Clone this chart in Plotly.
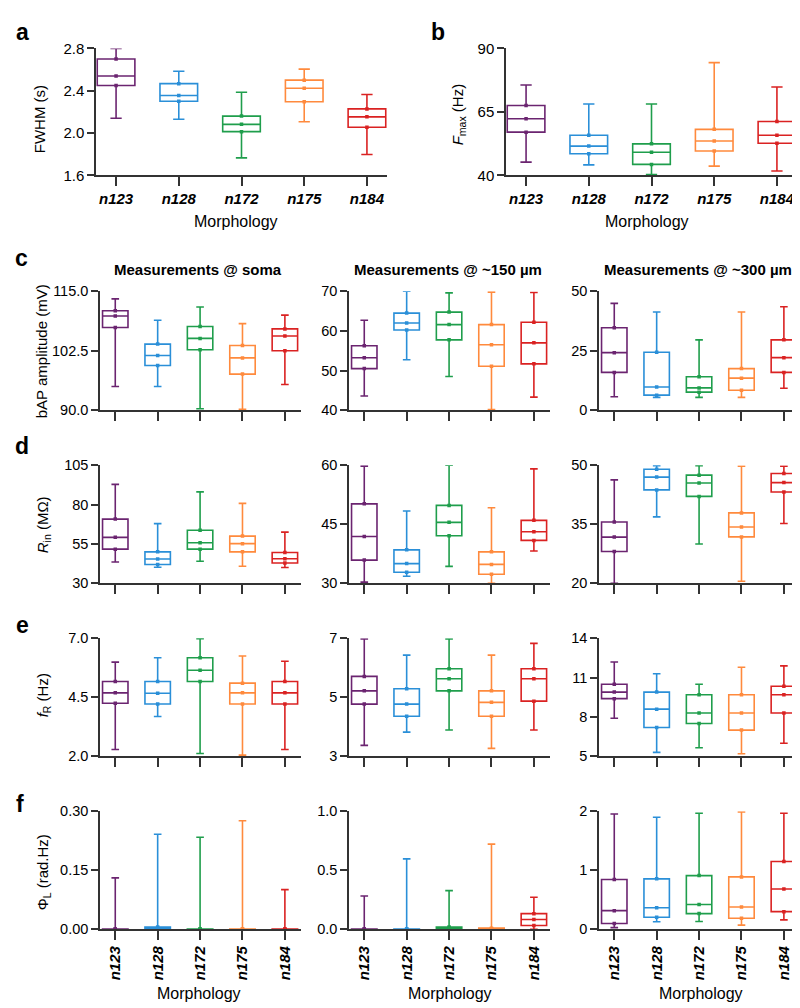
import plotly.graph_objects as go

W, H = 800, 1008
cats = ["n123", "n128", "n172", "n175", "n184"]
colors = ["#6B2470", "#2A8FD8", "#1F9E4C", "#FF8A3D", "#DA2222"]

# ---- data: [lower whisker, q1, median, q3, upper whisker] per morphology ----
fwhm_lo = [2.14, 2.13, 1.765, 2.107, 1.796]
fwhm_q1 = [2.45, 2.30, 2.013, 2.296, 2.054]
fwhm_md = [2.54, 2.355, 2.082, 2.424, 2.153]
fwhm_q3 = [2.70, 2.467, 2.16, 2.50, 2.228]
fwhm_hi = [2.80, 2.585, 2.386, 2.604, 2.365]

fmax_lo = [45.2, 44.1, 40.3, 43.6, 41.7]
fmax_q1 = [57.0, 48.5, 44.3, 49.6, 52.6]
fmax_md = [62.3, 51.5, 49.1, 53.5, 55.8]
fmax_q3 = [67.5, 55.8, 52.4, 58.1, 61.2]
fmax_hi = [75.6, 68.1, 68.1, 84.4, 74.8]

bap0_lo = [95.0, 95.0, 90.3, 90.2, 95.4]
bap0_q1 = [107.4, 99.4, 102.7, 97.6, 102.5]
bap0_md = [109.8, 101.5, 105.1, 101.0, 105.6]
bap0_q3 = [110.9, 103.9, 107.6, 103.6, 107.1]
bap0_hi = [113.4, 108.9, 111.7, 108.2, 110.0]

bap150_lo = [43.6, 52.75, 48.5, 40.2, 43.3]
bap150_q1 = [50.5, 60.25, 57.75, 51.1, 51.7]
bap150_md = [53.25, 62.0, 61.6, 56.5, 57.0]
bap150_q3 = [56.25, 64.5, 64.75, 61.6, 62.2]
bap150_hi = [62.7, 70.0, 69.6, 69.8, 69.7]

bap300_lo = [5.7, 5.4, 5.4, 5.4, 9.25]
bap300_q1 = [15.9, 6.35, 7.6, 8.4, 15.9]
bap300_md = [24.2, 9.8, 9.4, 13.5, 22.1]
bap300_q3 = [34.7, 24.4, 14.1, 17.5, 29.6]
bap300_hi = [44.9, 41.3, 29.6, 41.3, 43.5]

rin0_lo = [43.5, 40.2, 44.0, 40.8, 40.0]
rin0_q1 = [51.7, 41.9, 51.7, 50.0, 42.9]
rin0_md = [59.2, 45.4, 55.8, 55.2, 45.6]
rin0_q3 = [70.8, 50.0, 63.75, 60.0, 49.6]
rin0_hi = [92.9, 67.9, 88.1, 80.8, 62.5]

rin150_lo = [30.3, 31.8, 34.3, 30.0, 38.2]
rin150_q1 = [35.9, 32.8, 42.1, 32.3, 40.9]
rin150_md = [41.9, 35.0, 45.5, 34.8, 43.1]
rin150_q3 = [50.2, 38.5, 49.8, 38.0, 46.0]
rin150_hi = [59.8, 48.4, 60.0, 49.2, 59.1]

rin300_lo = [20.0, 36.9, 30.0, 20.5, 35.2]
rin300_q1 = [28.1, 43.75, 42.1, 31.8, 43.2]
rin300_md = [31.75, 47.0, 45.5, 34.3, 45.6]
rin300_q3 = [35.6, 49.0, 47.5, 37.9, 47.9]
rin300_hi = [46.3, 49.9, 49.9, 49.75, 49.75]

fr0_lo = [2.29, 3.69, 2.12, 2.05, 2.29]
fr0_q1 = [4.25, 4.22, 5.17, 4.22, 4.22]
fr0_md = [4.69, 4.67, 5.65, 4.69, 4.69]
fr0_q3 = [5.17, 5.17, 6.18, 5.10, 5.17]
fr0_hi = [5.99, 6.18, 6.99, 6.25, 6.03]

fr150_lo = [3.37, 3.82, 3.89, 3.27, 3.89]
fr150_q1 = [4.77, 4.36, 5.22, 4.36, 4.87]
fr150_md = [5.22, 4.77, 5.63, 4.83, 5.63]
fr150_q3 = [5.71, 5.29, 5.97, 5.22, 5.97]
fr150_hi = [6.98, 6.43, 6.98, 6.43, 6.83]

fr300_lo = [7.9, 5.3, 5.65, 5.2, 6.0]
fr300_q1 = [9.4, 7.2, 7.5, 7.0, 8.3]
fr300_md = [9.9, 8.6, 8.3, 8.3, 9.7]
fr300_q3 = [10.5, 9.9, 9.7, 9.7, 10.35]
fr300_hi = [12.2, 11.3, 10.5, 11.8, 11.9]

phi0_lo = [0.0, 0.0, 0.0, 0.0, 0.0]
phi0_q1 = [0.0, 0.0, 0.0, 0.0, 0.0]
phi0_md = [0.0, 0.003, 0.0005, 0.0005, 0.0005]
phi0_q3 = [0.001, 0.006, 0.001, 0.001, 0.001]
phi0_hi = [0.131, 0.242, 0.234, 0.276, 0.101]

phi150_lo = [0.0, 0.0, 0.0, 0.0, 0.0]
phi150_q1 = [0.0, 0.0, 0.0, 0.0, 0.033]
phi150_md = [0.0, 0.0, 0.01, 0.005, 0.083]
phi150_q3 = [0.003, 0.003, 0.02, 0.01, 0.133]
phi150_hi = [0.283, 0.597, 0.328, 0.722, 0.272]

phi300_lo = [0.03, 0.128, 0.133, 0.072, 0.161]
phi300_q1 = [0.10, 0.206, 0.267, 0.189, 0.30]
phi300_md = [0.317, 0.367, 0.422, 0.378, 0.683]
phi300_q3 = [0.844, 0.856, 0.911, 0.889, 1.15]
phi300_hi = [1.956, 1.90, 1.967, 1.989, 1.967]

FONT = "Liberation Sans, Arial, Helvetica, sans-serif"

def px(x):
    return x / W

def py(y):
    return 1 - y / H

cols3 = [(92, 293), (341, 542), (591, 792)]
rows = {"c": (279, 400), "d": (456, 576), "e": (632, 752), "f": (808, 928)}
RAB = [-0.32, 4.32]
RC = [-0.36, 4.38]

panels = [
    ((88, 379), (32, 161), [1.6, 2.8], [1.6, 2.0, 2.4, 2.8], ["1.6", "2.0", "2.4", "2.8"],
     (fwhm_lo, fwhm_q1, fwhm_md, fwhm_q3, fwhm_hi), "ab", RAB),
    ((498, 789), (32, 161), [40, 90], [40, 65, 90], ["40", "65", "90"],
     (fmax_lo, fmax_q1, fmax_md, fmax_q3, fmax_hi), "ab", RAB),
    (cols3[0], rows["c"], [90, 115], [90, 102.5, 115], ["90.0", "102.5", "115.0"],
     (bap0_lo, bap0_q1, bap0_md, bap0_q3, bap0_hi), "", RC),
    (cols3[1], rows["c"], [40, 70], [40, 50, 60, 70], ["40", "50", "60", "70"],
     (bap150_lo, bap150_q1, bap150_md, bap150_q3, bap150_hi), "", RC),
    (cols3[2], rows["c"], [0, 50], [0, 25, 50], ["0", "25", "50"],
     (bap300_lo, bap300_q1, bap300_md, bap300_q3, bap300_hi), "", RC),
    (cols3[0], rows["d"], [30, 105], [30, 55, 80, 105], ["30", "55", "80", "105"],
     (rin0_lo, rin0_q1, rin0_md, rin0_q3, rin0_hi), "", RC),
    (cols3[1], rows["d"], [30, 60], [30, 45, 60], ["30", "45", "60"],
     (rin150_lo, rin150_q1, rin150_md, rin150_q3, rin150_hi), "", RC),
    (cols3[2], rows["d"], [20, 50], [20, 35, 50], ["20", "35", "50"],
     (rin300_lo, rin300_q1, rin300_md, rin300_q3, rin300_hi), "", RC),
    (cols3[0], rows["e"], [2, 7], [2, 4.5, 7], ["2.0", "4.5", "7.0"],
     (fr0_lo, fr0_q1, fr0_md, fr0_q3, fr0_hi), "", RC),
    (cols3[1], rows["e"], [3, 7], [3, 5, 7], ["3", "5", "7"],
     (fr150_lo, fr150_q1, fr150_md, fr150_q3, fr150_hi), "", RC),
    (cols3[2], rows["e"], [5, 14], [5, 8, 11, 14], ["5", "8", "11", "14"],
     (fr300_lo, fr300_q1, fr300_md, fr300_q3, fr300_hi), "", RC),
    (cols3[0], rows["f"], [0, 0.30], [0, 0.15, 0.30], ["0.00", "0.15", "0.30"],
     (phi0_lo, phi0_q1, phi0_md, phi0_q3, phi0_hi), "f", RC),
    (cols3[1], rows["f"], [0, 1.0], [0, 0.5, 1.0], ["0.0", "0.5", "1.0"],
     (phi150_lo, phi150_q1, phi150_md, phi150_q3, phi150_hi), "f", RC),
    (cols3[2], rows["f"], [0, 2], [0, 1, 2], ["0", "1", "2"],
     (phi300_lo, phi300_q1, phi300_md, phi300_q3, phi300_hi), "f", RC),
]

fig = go.Figure()
layout = {}
AX = "#333333"

for i, (xd, yd, yr, tv, tt, data, lab, xr) in enumerate(panels):
    n = i + 1
    xa = "x" if n == 1 else f"x{n}"
    ya = "y" if n == 1 else f"y{n}"
    lo, q1, md, q3, hi = data
    for j, c in enumerate(cats):
        fig.add_trace(go.Box(
            x=[c], q1=[q1[j]], median=[md[j]], q3=[q3[j]],
            lowerfence=[lo[j]], upperfence=[hi[j]],
            width=0.6, whiskerwidth=0.3,
            line=dict(color=colors[j], width=1.6),
            fillcolor="rgba(255,255,255,0)",
            boxpoints=False, showlegend=False, hoverinfo="skip",
            xaxis=xa, yaxis=ya,
        ))
        fig.add_trace(go.Scatter(
            x=[c, c, c], y=[q1[j], md[j], q3[j]], mode="markers",
            marker=dict(color=colors[j], size=3.5, symbol="square"),
            showlegend=False, hoverinfo="skip", xaxis=xa, yaxis=ya,
        ))
    xkey = "xaxis" if n == 1 else f"xaxis{n}"
    ykey = "yaxis" if n == 1 else f"yaxis{n}"
    showlab = lab != ""
    xaxis = dict(
        domain=[px(xd[0]), px(xd[1])], anchor=ya, type="category",
        categoryorder="array", categoryarray=cats, range=xr,
        showline=True, linecolor=AX, linewidth=1.5, mirror=False,
        ticks="outside", ticklen=9, tickwidth=1.5, tickcolor=AX,
        showgrid=False, zeroline=False,
        showticklabels=showlab,
        tickfont=dict(family=FONT, size=15, color="black"),
    )
    if showlab:
        xaxis.update(tickmode="array", tickvals=cats,
                     ticktext=[f"<b><i>{c}</i></b>" for c in cats],
                     tickangle=-90 if lab == "f" else 0)
    layout[xkey] = xaxis
    layout[ykey] = dict(
        domain=[py(yd[1]), py(yd[0])], anchor=xa, range=yr,
        showline=True, linecolor=AX, linewidth=1.5,
        ticks="outside", ticklen=7, tickwidth=1.5, tickcolor=AX,
        showgrid=False, zeroline=False,
        tickmode="array", tickvals=tv, ticktext=tt,
        tickfont=dict(family=FONT, size=15 if n <= 2 else 14.5, color="black"),
    )

ann = []

def A(text, x, y, size=15, bold=False, angle=0, xanchor="center"):
    ann.append(dict(text=f"<b>{text}</b>" if bold else text, x=px(x), y=py(y),
                    xref="paper", yref="paper", showarrow=False, textangle=angle,
                    xanchor=xanchor, yanchor="middle",
                    font=dict(family=FONT, size=size, color="black")))

# panel letters
for t, x, y in [("a", 14, 15), ("b", 430, 15), ("c", 13, 245), ("d", 14, 436),
                ("e", 14, 618), ("f", 12, 801)]:
    A(t, x, y, size=23, bold=True)

# column titles
A("Measurements @ soma", 190, 257, size=15, bold=True)
A("Measurements @ ~150 µm", 440, 257, size=15, bold=True)
A("Measurements @ ~300 µm", 690, 257, size=15, bold=True)

# y-axis titles
A("FWHM (s)", 31, 104, size=15, angle=-90)
A("<i>F</i><sub>max</sub> (Hz)", 450, 99, size=15, angle=-90)
A("bAP amplitude (mV)", 33, 340, size=15, angle=-90)
A("<i>R</i><sub>in</sub> (MΩ)", 35, 517, size=15, angle=-90)
A("<i>f</i><sub>R</sub> (Hz)", 35, 690, size=15, angle=-90)
A("Φ<sub>L</sub> (rad.Hz)", 35, 870, size=15, angle=-90)

# x-axis titles
A("Morphology", 228, 208, size=16)
A("Morphology", 639, 208, size=16)
A("Morphology", 191, 993, size=16)
A("Morphology", 442, 993, size=16)
A("Morphology", 693, 993, size=16)

fig.update_layout(
    width=W, height=H, margin=dict(l=0, r=0, t=0, b=0),
    paper_bgcolor="white", plot_bgcolor="white",
    boxmode="overlay", annotations=ann,
    font=dict(family=FONT, color="black"),
    **layout,
)

fig.write_html("out.html")
